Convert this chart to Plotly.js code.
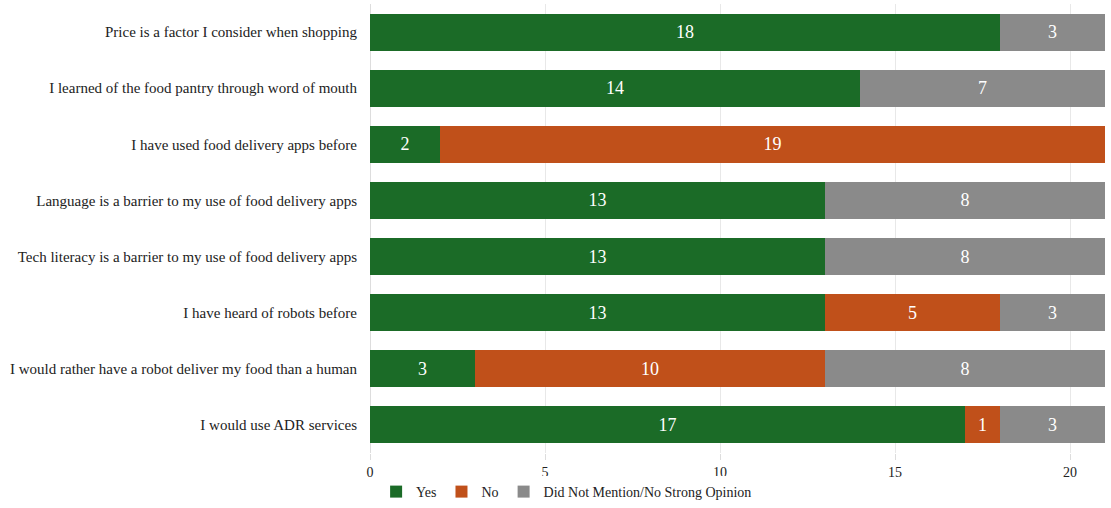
<!DOCTYPE html>
<html>
<head>
<meta charset="utf-8">
<script src="https://cdn.plot.ly/plotly-3.0.1.min.js"></script>
<style>html,body{margin:0;padding:0;background:#fff;}#chart{width:1111px;height:508px;}</style>
</head>
<body>
<div id="chart"></div>
<script>
const categories = [
  "Price is a factor I consider when shopping",
  "I learned of the food pantry through word of mouth",
  "I have used food delivery apps before",
  "Language is a barrier to my use of food delivery apps",
  "Tech literacy is a barrier to my use of food delivery apps",
  "I have heard of robots before",
  "I would rather have a robot deliver my food than a human",
  "I would use ADR services"
];
const yesValues = [18, 14, 2, 13, 13, 13, 3, 17];
const noValues = [null, null, 19, null, null, 5, 10, 1];
const dnmValues = [3, 7, null, 8, 8, 3, 8, 3];
const seriesNames = ["Yes", "No", "Did Not Mention/No Strong Opinion"];
const xTicks = [0, 5, 10, 15, 20];

const colors = ["#1b6b27", "#c0501a", "#8a8a8a"];
const font = "Liberation Serif, DejaVu Serif, serif";
const series = [yesValues, noValues, dnmValues];

const traces = series.map((vals, i) => ({
  type: "bar",
  orientation: "h",
  name: seriesNames[i],
  y: categories,
  x: vals,
  marker: {color: colors[i], line: {width: 0}},
  width: 0.66,
  text: vals.map(v => v == null ? "" : String(v)),
  textposition: "inside",
  insidetextanchor: "middle",
  textangle: 0,
  textfont: {family: font, size: 18, color: "#ffffff"},
  constraintext: "none",
  hoverinfo: "x+name"
}));

const layout = {
  barmode: "stack",
  width: 1111,
  height: 508,
  margin: {l: 370, r: 6, t: 4, b: 55},
  paper_bgcolor: "#ffffff",
  plot_bgcolor: "#ffffff",
  font: {family: font, color: "#222222"},
  showlegend: true,
  legend: {
    orientation: "h",
    xref: "container",
    x: 0.51,
    xanchor: "center",
    yref: "container",
    y: 0,
    yanchor: "bottom",
    font: {family: font, size: 14, color: "#222222"},
    itemwidth: 30,
    traceorder: "normal"
  },
  xaxis: {
    range: [0, 21],
    tickvals: xTicks,
    ticktext: xTicks.map(String),
    showgrid: true,
    gridcolor: "#e8e8e8",
    gridwidth: 1,
    zeroline: true,
    zerolinecolor: "#dddddd",
    zerolinewidth: 1,
    ticks: "outside",
    ticklen: 6,
    tickcolor: "#dddddd",
    tickfont: {family: font, size: 14, color: "#222222"},
    showline: false,
    fixedrange: true
  },
  yaxis: {
    categoryorder: "array",
    categoryarray: categories,
    autorange: "reversed",
    tickfont: {family: font, size: 15, color: "#222222"},
    ticks: "",
    ticklabelstandoff: 12,
    showgrid: false,
    showline: false,
    fixedrange: true
  },
  bargap: 0.34
};

Plotly.newPlot("chart", traces, layout, {displayModeBar: false, staticPlot: true});
</script>
</body>
</html>
